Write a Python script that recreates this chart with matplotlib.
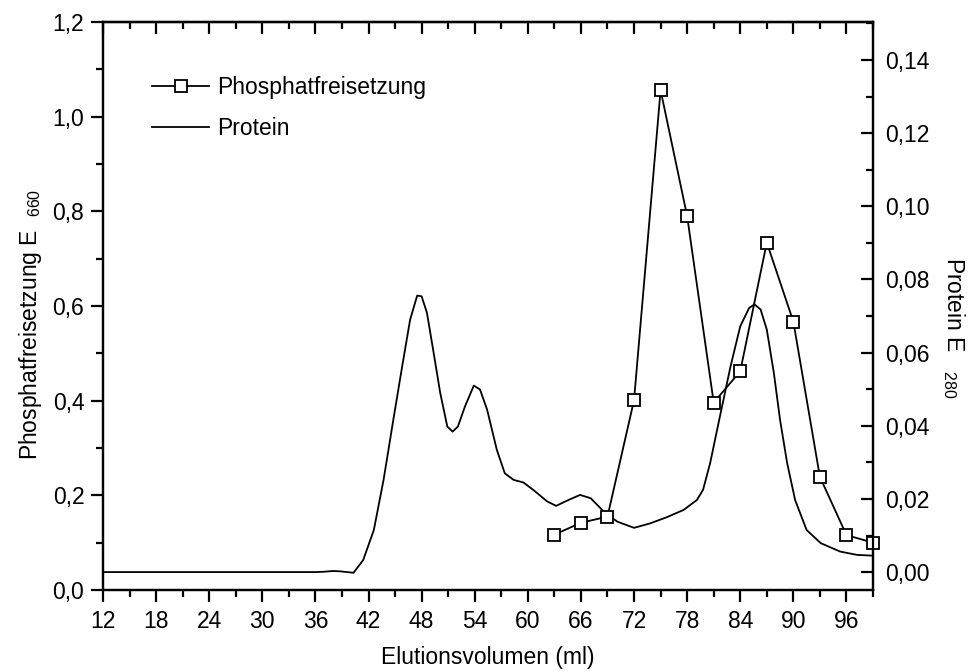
import matplotlib
matplotlib.use("Agg")
import matplotlib.pyplot as plt
from matplotlib.ticker import FixedLocator, MultipleLocator

plt.rcParams["font.family"] = ["Liberation Sans", "DejaVu Sans"]
plt.rcParams["mathtext.fontset"] = "custom"
plt.rcParams["mathtext.rm"] = "Liberation Sans"
plt.rcParams["mathtext.it"] = "Liberation Sans"

# Phosphatfreisetzung (left axis, E660)
phosX = [63, 66, 69, 72, 75, 78, 81, 84, 87, 90, 93, 96, 99]
phosY = [0.117, 0.142, 0.155, 0.401, 1.056, 0.790, 0.396, 0.462, 0.734,
         0.567, 0.239, 0.116, 0.100]

# Protein (right axis, E280)
protX = [12, 20, 30, 36, 37, 38, 38.8, 39.6, 40.3, 41.4, 42.6, 43.7, 44.8,
         45.8, 46.7, 47.5, 48.0, 48.6, 49.3, 50.1, 50.9, 51.5, 52.1, 52.9,
         53.9, 54.6, 55.4, 56.5, 57.4, 58.4, 59.5, 60.6, 62.2, 63.2, 64.4,
         65.9, 67.1, 68.6, 70.1, 72.0, 73.8, 75.7, 77.6, 79.1, 79.8, 80.6,
         81.7, 82.9, 84.0, 85.0, 85.6, 86.3, 87.0, 87.8, 88.5, 89.3, 90.2,
         91.5, 93.1, 95.3, 97.2, 98.9]
protY = [0.0, 0.0, 0.0, 0.0, 0.0001, 0.0003, 0.0002, 0.0, -0.0002, 0.0033,
         0.0115, 0.0252, 0.0416, 0.0562, 0.069, 0.0756, 0.0754, 0.0709,
         0.0608, 0.049, 0.0398, 0.0384, 0.0398, 0.0453, 0.051, 0.0499,
         0.0444, 0.0334, 0.027, 0.0252, 0.0245, 0.0225, 0.0193, 0.0181,
         0.0195, 0.0211, 0.0202, 0.0165, 0.0138, 0.0121, 0.0133, 0.015,
         0.017, 0.0197, 0.0225, 0.0298, 0.0425, 0.0562, 0.0672, 0.0722,
         0.0732, 0.0718, 0.0663, 0.0544, 0.0416, 0.0298, 0.0197, 0.0115,
         0.0079, 0.0056, 0.0047, 0.0045]

xTicks = list(range(12, 97, 6))
leftTicks = [0.0, 0.2, 0.4, 0.6, 0.8, 1.0, 1.2]
rightTicks = [0.00, 0.02, 0.04, 0.06, 0.08, 0.10, 0.12, 0.14]

fs = 16.5

fig = plt.figure(figsize=(9.74, 6.71), dpi=100)
ax1 = fig.add_axes([103 / 974, 1 - 590 / 671, 770 / 974, 568 / 671])
ax2 = ax1.twinx()
ax1.set_zorder(ax2.get_zorder() + 1)
ax1.patch.set_visible(False)

ax2.plot(protX, protY, color="black", lw=1.3, label="Protein")
ax1.plot(phosX, phosY, color="black", lw=1.3, marker="s", markersize=8.5,
         markerfacecolor="white", markeredgewidth=1.3,
         label="Phosphatfreisetzung", clip_on=False)

ax1.set_xlim(12, 99)
ax1.set_ylim(0, 1.2)
ax2.set_ylim(-0.0049, 0.1504)

ax1.xaxis.set_major_locator(FixedLocator(xTicks))
ax1.xaxis.set_minor_locator(MultipleLocator(3))
ax1.yaxis.set_major_locator(FixedLocator(leftTicks))
ax1.yaxis.set_minor_locator(MultipleLocator(0.1))
ax2.yaxis.set_major_locator(FixedLocator(rightTicks))
ax2.yaxis.set_minor_locator(MultipleLocator(0.01))

ax1.set_xticklabels([str(v) for v in xTicks])
ax1.set_yticklabels([f"{v:.1f}".replace(".", ",") for v in leftTicks])
ax2.set_yticklabels([f"{v:.2f}".replace(".", ",") for v in rightTicks])

# top axis: ticks pointing inward, no labels
top = ax1.secondary_xaxis("top")
top.xaxis.set_major_locator(FixedLocator(xTicks))
top.xaxis.set_minor_locator(MultipleLocator(3))
top.tick_params(axis="x", which="both", direction="in", labeltop=False)

for ax in (ax1, ax2, top):
    for sp in ax.spines.values():
        sp.set_linewidth(1.6)
    ax.tick_params(which="major", length=8.5, width=1.6, labelsize=fs)
    ax.tick_params(which="minor", length=5, width=1.6)

ax1.tick_params(axis="x", which="both", direction="out", top=False, pad=6)
ax1.tick_params(axis="y", which="both", direction="out", right=False, pad=5)
ax2.tick_params(axis="y", which="both", direction="in", pad=9)

ax1.set_xlabel("Elutionsvolumen (ml)", fontsize=fs, labelpad=9)
ax1.set_ylabel(r"Phosphatfreisetzung E  $_{\mathregular{660}}$", fontsize=fs)
ax1.yaxis.set_label_coords(-0.0766, 0.467)
ax2.set_ylabel(r"Protein E   $_{\mathregular{280}}$", fontsize=fs,
               rotation=270, va="bottom")
ax2.yaxis.set_label_coords(1.088, 0.461)

h1, l1 = ax1.get_legend_handles_labels()
h2, l2 = ax2.get_legend_handles_labels()
ax1.legend(h1 + h2, l1 + l2, loc="upper left", bbox_to_anchor=(0.052, 0.921),
           borderaxespad=0, frameon=False, fontsize=fs, handlelength=2.5,
           handletextpad=0.35, labelspacing=0.8)

fig.savefig("out.png", dpi=100)
